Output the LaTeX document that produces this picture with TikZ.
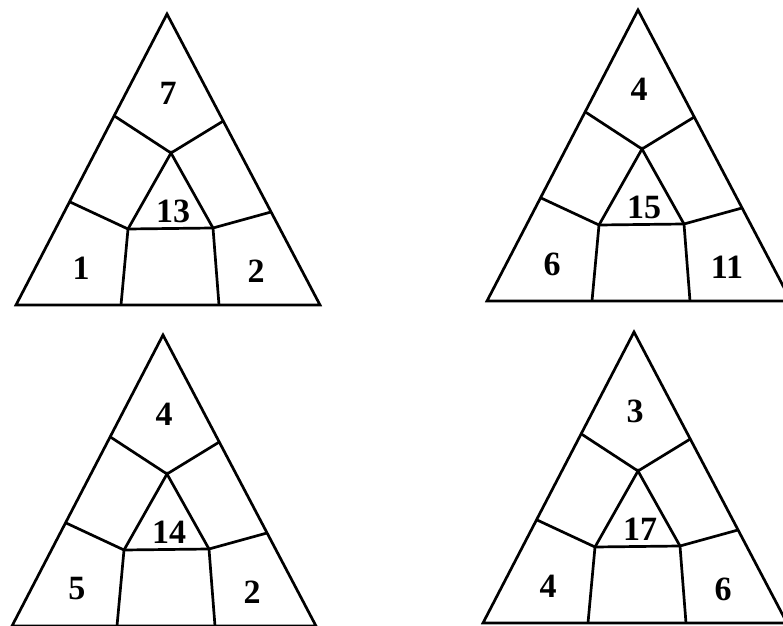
\documentclass[tikz,border=0pt]{standalone}
\usepackage{fontspec}
\setmainfont{Liberation Serif}
\usetikzlibrary{positioning}

\begin{document}
\begin{tikzpicture}[
      x = 0.5pt, y = -0.5pt,
      edge/.style = {draw = black, line width = 1.35pt, line join = miter},
      num/.style  = {font = \fontsize{17}{17}\selectfont\bfseries, inner sep = 0pt},
      pics/tripuzzle/.style n args = {4}{code = {
        % corners and cut points ------------------------------------------
        \coordinate (-top) at (0,0);
        \coordinate (-bl)  at (-151,291);
        \coordinate (-br)  at (153,291);
        \coordinate (-lu)  at (-52.6,102);
        \coordinate (-ru)  at (56.3,107);
        \coordinate (-ll)  at (-96.9,188);
        \coordinate (-rl)  at (104,198);
        \coordinate (-c)   at (4,139);
        \coordinate (-ibl) at (-39,215);
        \coordinate (-ibr) at (46,214);
        \coordinate (-bml) at (-46,291);
        \coordinate (-bmr) at (52,291);
        % outline and cells -------------------------------------------------
        \draw[edge] (-top) -- (-bl) -- (-br) -- cycle;
        \draw[edge] (-lu) -- (-c) -- (-ru);
        \draw[edge] (-ll) -- (-ibl) -- (-ibr) -- (-rl);
        \draw[edge] (-ibl) -- (-c) -- (-ibr);
        \draw[edge] (-ibl) -- (-bml);
        \draw[edge] (-ibr) -- (-bmr);
        % numbers -----------------------------------------------------------
        \node[num] (-up)  at (1,79)    {#1};
        \node[num] (-mid) at (6,197)   {#2};
        \node[num] (-lft) at (-86,254) {#3};
        \node[num] (-rgt) at (89,257)  {#4};
      }}
    ]

  \clip (0,0) rectangle (783,626);

  % top row -----------------------------------------------------------------
  \pic (ta) at (167,14) {tripuzzle={7}{13}{1}{2}};
  \pic (tb) at (638,10) {tripuzzle={4}{15}{6}{11}};

  % bottom row --------------------------------------------------------------
  \pic (tc) at (163,335) {tripuzzle={4}{14}{5}{2}};
  \pic (td) at (634,332) {tripuzzle={3}{17}{4}{6}};

\end{tikzpicture}
\end{document}
